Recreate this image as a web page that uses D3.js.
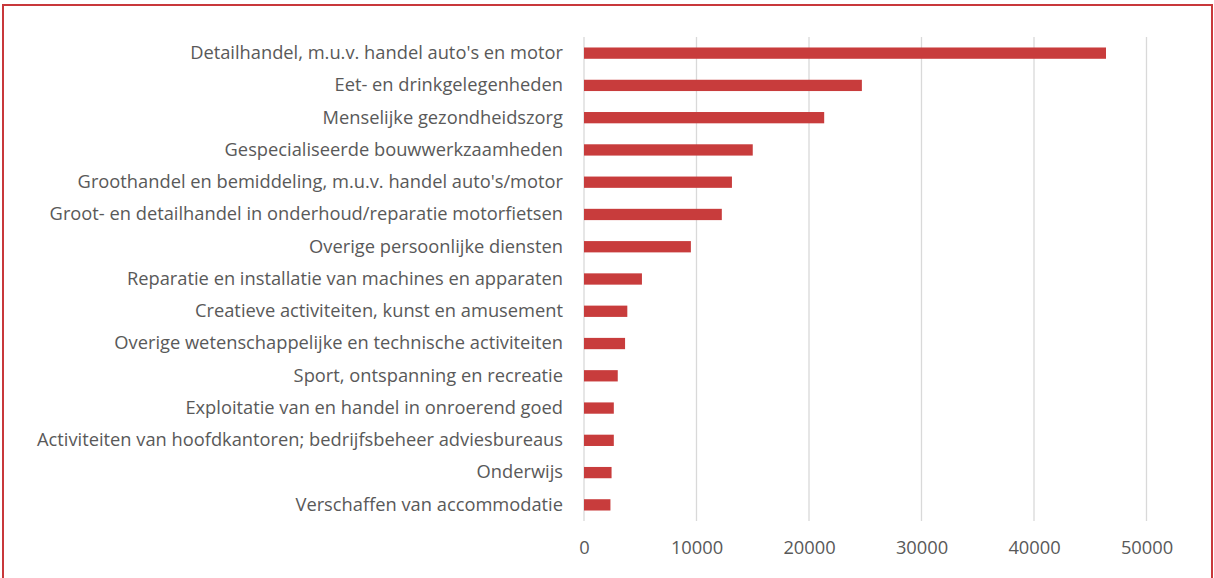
<!DOCTYPE html>
<html>
<head>
<meta charset="utf-8">
<script src="https://cdn.jsdelivr.net/npm/d3@7"></script>
<style>
  html, body { margin: 0; padding: 0; background: #fff; }
  svg { display: block; }
</style>
</head>
<body>
<svg id="chart" width="1214" height="578"></svg>
<script>
// sectoren, van boven naar beneden
const sectoren = [
  "Detailhandel, m.u.v. handel auto's en motor",
  "Eet- en drinkgelegenheden",
  "Menselijke gezondheidszorg",
  "Gespecialiseerde bouwwerkzaamheden",
  "Groothandel en bemiddeling, m.u.v. handel auto's/motor",
  "Groot- en detailhandel in onderhoud/reparatie motorfietsen",
  "Overige persoonlijke diensten",
  "Reparatie en installatie van machines en apparaten",
  "Creatieve activiteiten, kunst en amusement",
  "Overige wetenschappelijke en technische activiteiten",
  "Sport, ontspanning en recreatie",
  "Exploitatie van en handel in onroerend goed",
  "Activiteiten van hoofdkantoren; bedrijfsbeheer adviesbureaus ",
  "Onderwijs",
  "Verschaffen van accommodatie"
];
const aantallen = [46400, 24700, 21350, 15000, 13150, 12250, 9500, 5150, 3850, 3650, 3000, 2650, 2650, 2450, 2350];
const ticks = [0, 10000, 20000, 30000, 40000, 50000];

const svg = d3.select("#chart");
const font = "'Open Sans', sans-serif";
const grijs = "#595959";

// rode kader
svg.append("rect")
  .attr("x", 3).attr("y", 5)
  .attr("width", 1209).attr("height", 600)
  .attr("fill", "none")
  .attr("stroke", "#c8383b")
  .attr("stroke-width", 2);

const x = d3.scaleLinear().domain([0, 50000]).range([584, 1146.5]);
const y = d3.scaleBand().domain(sectoren).range([37, 521])
  .paddingInner(0.65).paddingOuter(0.325);

// rasterlijnen
svg.append("g")
  .selectAll("line")
  .data(ticks)
  .enter()
  .append("line")
  .attr("x1", d => x(d)).attr("x2", d => x(d))
  .attr("y1", 37).attr("y2", 521)
  .attr("stroke", "#d9d9d9")
  .attr("stroke-width", 1.3);

// x-as labels
const xAs = svg.append("g")
  .attr("transform", "translate(0,538)")
  .call(d3.axisBottom(x).tickValues(ticks).tickFormat(d3.format("d")).tickSize(0));
xAs.select(".domain").remove();
xAs.selectAll("text")
  .attr("font-family", font)
  .attr("font-size", 18.3)
  .attr("fill", grijs);

// balken
svg.append("g")
  .selectAll("rect")
  .data(aantallen)
  .enter()
  .append("rect")
  .attr("x", x(0))
  .attr("y", (d, i) => y(sectoren[i]))
  .attr("width", d => x(d) - x(0))
  .attr("height", y.bandwidth())
  .attr("fill", "#c83c3c");

// categorie labels
const yAs = svg.append("g")
  .attr("transform", "translate(563,0)")
  .call(d3.axisLeft(y).tickSize(0).tickPadding(0));
yAs.select(".domain").remove();
yAs.selectAll("text")
  .attr("font-family", font)
  .attr("font-size", 18.3)
  .attr("fill", grijs);
</script>
</body>
</html>
